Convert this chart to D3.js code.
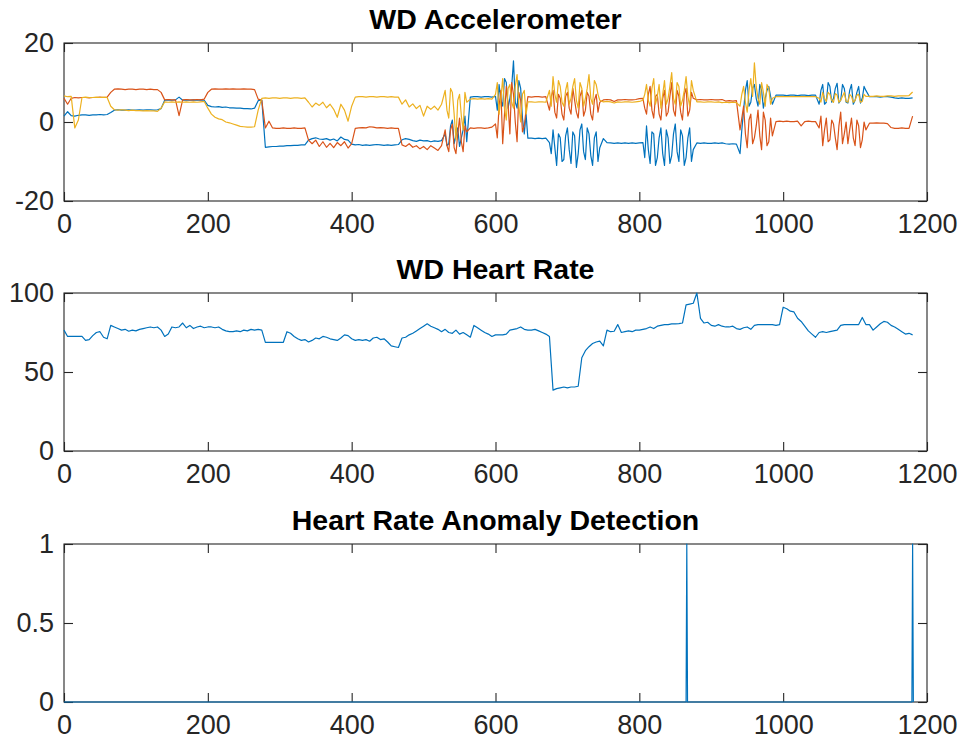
<!DOCTYPE html>
<html><head><meta charset="utf-8">
<script src="https://cdn.jsdelivr.net/npm/d3@7"></script>
<style>
body{margin:0;background:#fff}
svg{display:block}
text{font-family:"Liberation Sans",Arial,Helvetica,sans-serif}
</style>
</head><body>
<svg id="chart" width="964" height="750"></svg>
<script>
const STEP = 5;
const accelX = [
1.5,2.6,1.6,1.5,1.7,1.8,1.8,1.7,1.8,1.8,1.9,1.8,1.9,2.4,3.0,3.1,3.0,3.0,3.1,3.0,
3.0,3.1,3.0,3.1,3.1,3.0,3.1,3.4,5.5,5.6,5.5,5.6,6.3,5.5,5.6,5.5,5.6,5.5,5.6,5.5,
4.2,3.9,3.8,3.9,3.7,3.8,3.6,3.6,3.5,3.5,3.4,3.4,3.3,3.5,5.4,5.6,-6.4,-6.3,-6.2,-6.2,
-6.1,-6.1,-6.0,-6.0,-5.9,-5.9,-5.8,-5.8,-4.6,-4.2,-4.0,-4.3,-4.4,-4.2,-4.6,-4.3,-4.8,-3.8,-4.4,-4.6,
-5.6,-5.8,-5.7,-5.9,-5.8,-5.9,-5.8,-5.7,-5.8,-5.9,-5.8,-5.9,-5.8,-5.7,-4.5,-4.2,-4.4,-4.7,-4.9,-4.6,
-4.8,-4.7,-5.0,-4.8,-4.9,-4.7,-3.0,-5.5,0.5,-3.5,-6.2,-2.0,-5.0,6.3,6.4,6.4,6.3,6.4,6.4,6.3,
6.5,9.5,4.0,10.0,6.0,15.5,3.5,8.5,-3.0,-4.1,-4.1,-4.2,-4.1,-4.2,-4.1,-5.2,-2.0,-11.0,-4.0,-9.5,
-1.5,-10.5,-3.5,-8.0,-0.5,-9.5,-3.0,-11.0,-2.5,-6.5,-4.2,-5.2,-5.3,-5.4,-5.3,-5.4,-5.3,-5.4,-5.3,-5.4,
-5.3,-5.2,-1.0,-10.5,-3.0,-9.0,-1.5,-11.0,-4.0,-8.5,-0.5,-10.0,-3.5,-9.0,-1.5,-7.0,-5.3,-5.4,-5.3,-5.4,
-5.4,-5.3,-5.4,-5.3,-5.5,-5.6,-5.5,-5.6,-8.0,3.0,10.5,5.0,9.5,4.0,8.0,6.0,9.0,4.5,6.8,6.8,
6.8,6.7,6.8,6.8,6.7,6.8,6.8,6.7,6.8,6.8,4.5,9.5,5.0,9.0,6.0,9.8,5.5,8.5,4.8,9.5,
5.5,9.0,6.0,8.0,6.4,6.4,6.4,6.3,6.4,6.4,6.3,6.1,6.0,6.1,6.0,6.0,6.1
];
const accelY = [
6.0,4.5,6.0,6.2,6.1,6.2,6.2,6.1,6.2,6.2,6.3,6.2,6.3,7.5,8.3,8.4,8.3,8.2,8.3,8.3,
8.2,8.3,8.3,8.2,8.3,8.2,8.2,7.5,5.6,5.7,5.6,5.6,1.6,5.6,5.7,5.6,5.6,5.7,5.6,5.8,
7.5,8.3,8.4,8.3,8.3,8.4,8.3,8.4,8.3,8.3,8.4,8.3,8.3,8.2,5.8,5.5,-1.5,0.2,-1.5,-1.6,
-1.6,-1.5,-1.6,-1.6,-1.5,-1.6,-1.6,-1.5,-4.6,-5.5,-4.6,-6.2,-5.0,-6.4,-5.4,-6.5,-5.2,-6.0,-5.0,-6.6,
-5.5,-1.6,-1.5,-1.4,-1.5,-1.2,-1.3,-1.5,-1.4,-1.5,-1.6,-1.5,-1.6,-1.6,-5.8,-6.2,-5.5,-6.4,-6.0,-6.8,
-6.2,-7.0,-6.0,-6.6,-7.2,-6.0,-2.0,-7.5,-0.5,-8.0,1.0,-7.5,-2.5,-1.5,-1.6,-1.5,-1.5,-1.6,-1.5,-1.3,
-0.5,4.0,-5.5,9.0,-3.0,7.0,-5.0,5.5,-1.0,6.4,6.3,6.4,6.4,6.3,6.4,3.0,8.0,1.0,6.0,0.5,
7.5,2.0,5.5,1.0,8.0,3.0,6.5,0.5,7.0,5.0,5.6,5.7,5.6,5.2,5.6,5.6,5.7,5.6,5.6,5.7,
5.9,6.0,2.0,9.0,1.0,7.0,0.5,8.0,2.5,10.0,1.5,6.5,0.5,8.5,3.0,6.0,5.6,5.7,5.6,5.6,
5.7,5.6,5.6,5.7,5.3,5.4,5.3,5.4,-2.0,4.0,-6.5,2.0,-4.0,3.0,-7.0,0.5,-5.0,-3.5,0.1,0.2,
0.1,0.2,0.1,0.1,0.2,-1.0,0.1,0.2,0.1,0.1,-1.5,-6.0,1.0,-4.5,-0.5,-7.0,2.5,-3.0,-5.5,1.0,
-6.0,-1.0,-4.5,-2.0,-0.3,-0.3,-0.2,-0.3,-0.3,-0.4,-1.4,-1.6,-1.6,-1.5,-1.6,-1.6,1.5
];
const accelZ = [
6.6,6.4,6.5,-1.5,0.5,6.2,6.3,6.2,6.2,6.3,6.2,6.3,6.2,4.0,3.1,3.0,3.1,3.0,2.9,3.0,
2.9,2.9,2.8,2.9,2.8,2.8,2.7,3.5,5.1,5.0,5.1,5.0,5.1,5.0,5.1,5.0,5.1,5.0,5.1,5.2,
3.5,2.0,1.2,0.8,0.6,0.0,-0.2,-0.5,-0.8,-1.1,-1.2,-1.3,-1.3,-1.2,3.0,6.0,6.1,6.0,6.1,6.1,
6.0,6.1,6.1,6.0,6.1,6.1,6.0,6.1,5.0,3.8,4.8,4.2,5.0,3.6,4.5,3.2,1.2,4.5,3.0,0.2,
4.0,6.3,6.4,6.4,6.3,6.4,6.4,6.3,6.4,6.4,6.3,6.4,6.3,6.3,4.5,5.6,3.8,4.6,3.4,4.2,
1.5,4.0,3.2,4.0,3.0,4.5,8.0,1.0,7.5,-4.5,7.0,-2.0,5.0,5.8,5.9,5.8,5.9,5.8,5.9,5.8,
7.0,2.0,11.0,0.5,9.5,3.5,12.0,0.0,8.0,5.1,5.1,5.0,5.1,5.1,5.0,8.0,11.5,5.0,9.0,4.0,
10.0,6.0,11.0,3.5,8.5,6.0,12.0,4.5,9.5,5.5,5.1,5.2,5.1,4.8,5.1,5.0,5.1,5.1,5.0,5.1,
5.2,5.5,9.5,4.0,11.0,6.5,3.5,10.5,6.0,12.5,4.5,9.0,5.5,11.5,4.0,8.0,5.1,5.1,5.0,5.1,
5.1,5.0,5.1,4.9,5.0,4.9,5.0,4.9,4.0,9.0,2.5,11.0,15.0,6.0,10.0,4.0,8.5,6.0,6.4,6.4,
6.4,6.4,6.4,6.4,6.4,6.4,6.4,6.4,6.4,6.4,6.0,7.5,5.2,7.0,5.0,6.8,5.5,7.5,5.0,6.5,
5.5,7.0,5.2,6.5,6.5,6.5,6.6,6.5,6.5,6.6,6.6,6.5,6.6,6.6,6.6,6.7,7.6
];
// extra half-step samples inside the high-activity bursts
const burstRanges = [[532.5, 557.5], [602.5, 642.5], [677.5, 742.5], [807.5, 872.5], [942.5, 982.5], [1052.5, 1112.5]];
const accelXBurst = [
-6.0,-1.0,-5.5,-1.5,-4.0,1.5,
3.0,5.5,11.0,3.5,9.0,5.0,10.5,1.0,2.0,
-8.0,-6.5,-3.0,-10.0,-3.5,-7.0,-2.5,-11.5,-2.0,-7.5,-1.5,-8.5,-4.0,-10.0,
-9.0,-7.0,-2.5,-11.0,-4.0,-8.0,-2.0,-10.5,-3.0,-7.5,-2.0,-11.0,-4.0,-10.0,
-2.0,8.0,4.0,8.5,6.0,9.5,3.5,8.0,6.5,
8.0,4.5,10.0,5.0,8.5,4.8,9.5,5.0,8.0,4.5,7.5,4.8,9.0
];
const accelYBurst = [
-6.0,-2.0,-6.5,-3.0,-5.0,-1.0,
-4.0,8.0,2.0,4.5,10.0,0.0,7.5,-2.5,3.0,
6.5,2.5,7.0,2.0,6.5,3.5,8.5,2.5,6.5,1.5,7.5,2.0,5.5,2.5,
3.5,7.0,3.0,6.5,2.0,6.0,1.5,6.5,3.0,8.0,2.5,7.0,1.5,7.5,
1.0,-3.0,0.5,-5.5,-1.0,-3.5,2.5,-6.0,1.0,
1.5,-2.0,-5.0,0.5,-4.0,-1.0,-5.5,0.0,-2.0,-4.0,0.5,-6.5,0.0
];
const accelZBurst = [
3.0,8.5,2.0,5.5,1.5,7.5,
10.0,6.0,3.5,8.5,5.0,9.0,4.0,7.0,2.0,
4.0,7.0,10.5,5.0,8.0,4.5,9.0,5.5,10.0,4.0,8.5,6.0,10.5,7.0,
7.0,5.5,8.5,4.5,9.5,7.0,4.5,9.0,6.0,10.0,4.0,8.0,6.5,10.5,
7.0,5.0,8.0,6.5,9.0,4.5,7.5,9.5,4.5,
5.0,6.0,7.5,5.5,7.2,5.0,6.5,5.2,7.0,5.0,6.8,5.0,7.0
];
const heartRate = [
76.5,72.5,72.5,72.5,72.5,72.5,70.0,70.5,73.0,75.0,75.5,72.0,71.0,79.5,78.5,77.5,76.5,77.0,75.8,76.5,
76.0,77.0,77.5,78.0,78.5,78.0,78.5,76.5,72.5,74.0,78.5,78.0,78.5,81.0,78.0,79.5,77.5,78.5,79.0,78.0,
78.5,78.5,78.0,78.5,77.0,76.0,75.5,75.5,76.0,75.5,76.5,76.0,77.0,76.5,77.0,76.5,68.8,68.8,68.8,68.8,
68.8,68.8,75.5,74.5,72.5,71.0,70.0,70.5,69.0,70.0,71.5,71.0,72.5,72.0,71.0,70.5,70.0,71.5,73.5,73.0,
71.0,70.0,70.5,70.0,70.5,69.5,71.5,72.0,70.5,71.0,69.0,66.5,66.0,65.5,71.5,72.0,73.5,74.5,76.0,77.5,
79.0,80.5,79.0,78.0,77.0,75.5,77.0,75.0,74.5,76.5,74.0,75.0,73.5,72.0,79.5,78.0,76.5,75.0,74.0,72.5,
73.5,73.5,73.5,74.0,76.5,77.0,77.5,78.5,77.0,76.5,76.5,77.0,76.0,75.0,74.0,72.5,38.5,39.5,40.0,40.5,
40.0,40.5,40.5,41.0,59.0,63.5,66.0,68.0,69.0,69.5,66.5,76.5,75.5,75.8,80.0,75.0,75.5,76.0,75.5,76.5,
76.5,77.0,77.5,78.5,77.5,79.0,79.5,80.0,80.0,80.5,80.5,80.6,81.0,92.5,93.0,93.5,100.0,84.0,81.0,81.5,
79.5,79.0,80.0,79.0,78.5,78.5,79.0,77.5,77.0,78.0,78.5,77.0,79.5,80.0,80.0,80.0,80.0,80.0,79.5,80.0,
91.0,90.0,88.5,88.0,84.0,82.0,79.0,76.0,74.0,72.0,75.0,75.5,75.0,75.5,76.0,76.5,79.5,80.0,80.0,80.0,
80.0,80.0,84.5,80.0,80.0,76.5,78.5,80.5,82.0,81.5,79.5,78.5,77.0,75.5,74.0,74.5,73.5
];
const anomalyT = [0, 865, 866, 867, 1179, 1180, 1181];
const anomalyV = [0, 0, 1, 0, 0, 1, 0];

const xTicks = [0, 200, 400, 600, 800, 1000, 1200];
const accelTicks = [-20, 0, 20];
const hrTicks = [0, 50, 100];
const anomalyTicks = [0, 0.5, 1];
const titles = ["WD Accelerometer", "WD Heart Rate", "Heart Rate Anomaly Detection"];
const lineColors = ["#0072BD", "#D95319", "#EDB120"];

// ---- layout ----
const svg = d3.select("#chart");
const left = 64, right = 927, ph = 158;
const tops = [43, 293, 544];
const axisColor = "#262626";
const x = d3.scaleLinear().domain([0, 1200]).range([left, right]);

function panel(idx, yDomain, yTicks, series) {
  const top = tops[idx], bottom = top + ph;
  const y = d3.scaleLinear().domain(yDomain).range([bottom, top]);
  const g = svg.append("g");
  const clipId = "clip" + idx;
  svg.append("clipPath").attr("id", clipId).append("rect")
    .attr("x", left - 1).attr("y", top - 1.5).attr("width", right - left + 2).attr("height", ph + 3);

  g.append("rect").attr("x", left).attr("y", top).attr("width", right - left).attr("height", ph)
    .attr("fill", "#fff").attr("stroke", axisColor).attr("stroke-width", 1.1);

  const styleAxis = sel => {
    sel.select(".domain").remove();
    sel.selectAll(".tick line").attr("stroke", axisColor).attr("stroke-width", 1.1);
    sel.selectAll(".tick text").attr("fill", axisColor).style("font-size", "27px");
  };
  g.append("g").attr("transform", `translate(0,${bottom})`)
    .call(d3.axisBottom(x).tickValues(xTicks).tickFormat(d => String(d)).tickSizeInner(-9).tickSizeOuter(0).tickPadding(13))
    .call(styleAxis);
  g.append("g").attr("transform", `translate(0,${top})`)
    .call(d3.axisTop(x).tickValues(xTicks).tickFormat("").tickSizeInner(-9).tickSizeOuter(0))
    .call(styleAxis);
  g.append("g").attr("transform", `translate(${left},0)`)
    .call(d3.axisLeft(y).tickValues(yTicks).tickFormat(d => String(d)).tickSizeInner(-9).tickSizeOuter(0).tickPadding(10))
    .call(styleAxis);
  g.append("g").attr("transform", `translate(${right},0)`)
    .call(d3.axisRight(y).tickValues(yTicks).tickFormat("").tickSizeInner(-9).tickSizeOuter(0))
    .call(styleAxis);

  svg.append("text").attr("x", (left + right) / 2).attr("y", top - 14)
    .attr("text-anchor", "middle").attr("fill", "#000")
    .style("font-size", "28.5px").style("font-weight", "bold").text(titles[idx]);

  const lines = svg.append("g").attr("clip-path", `url(#${clipId})`);
  series.forEach(s => {
    const line = d3.line().x(d => x(d[0])).y(d => y(d[1]));
    lines.append("path").datum(s.pts).attr("d", line)
      .attr("fill", "none").attr("stroke", s.color).attr("stroke-width", 1.2)
      .attr("stroke-linejoin", "round");
  });
}

// burst sample positions (x only), in the same order as the *Burst arrays
const burstT = burstRanges.flatMap(([a, b]) => d3.range(a, b + 0.01, STEP));
const toPts = (arr, extra) => {
  const pts = arr.map((v, i) => [i * STEP, v]);
  if (extra) extra.forEach((v, i) => pts.push([burstT[i], v]));
  return pts.sort((p, q) => p[0] - q[0]);
};

panel(0, [-20, 20], accelTicks, [
  {pts: toPts(accelX, accelXBurst), color: lineColors[0]},
  {pts: toPts(accelY, accelYBurst), color: lineColors[1]},
  {pts: toPts(accelZ, accelZBurst), color: lineColors[2]}
]);
panel(1, [0, 100], hrTicks, [
  {pts: toPts(heartRate), color: lineColors[0]}
]);
panel(2, [0, 1], anomalyTicks, [
  {pts: anomalyT.map((t, i) => [t, anomalyV[i]]), color: lineColors[0]}
]);
</script>
</body></html>
